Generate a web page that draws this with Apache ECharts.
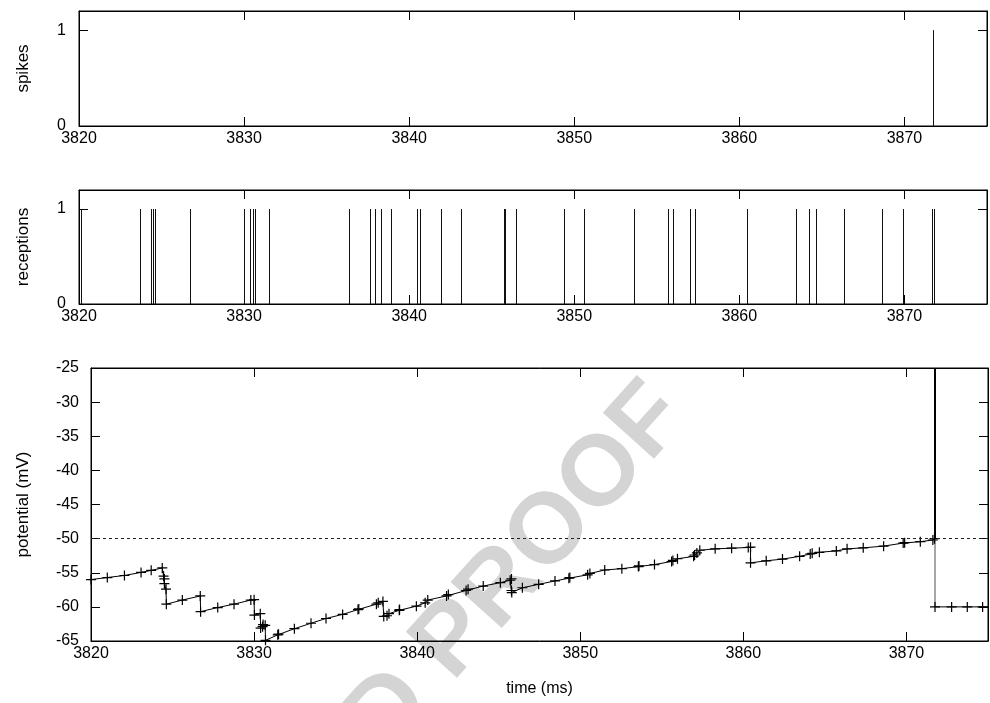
<!DOCTYPE html>
<html>
<head>
<meta charset="utf-8">
<title>Neuron trace</title>
<script src="https://cdn.jsdelivr.net/npm/echarts@6/dist/echarts.min.js"></script>
<style>
  html, body { margin: 0; padding: 0; background: #fff; }
  #chart { width: 990px; height: 703px; }
</style>
</head>
<body>
<div id="chart"></div>
<script>
// time window (ms) and tick steps
const timeMin = 3820
const timeMax = 3875
const timeStep = 10

// output spikes
const spikeTimes = [3871.75]

// incoming spike receptions
const receptionTimes = [
  3820.1, 3823.69, 3824.36, 3824.50, 3824.60, 3826.72, 3829.99, 3830.38, 3830.52, 3830.68,
  3831.49, 3836.37, 3837.61, 3837.95, 3838.27, 3838.92, 3840.49, 3840.65, 3841.91, 3843.12,
  3845.74, 3845.80, 3846.47, 3849.36, 3850.59, 3853.60, 3855.68, 3855.96, 3857.01, 3857.33,
  3860.44, 3863.45, 3864.22, 3864.66, 3866.36, 3868.64, 3869.89, 3871.65, 3871.79
]

// membrane potential before the spike
const traceTime = [
  3820.0, 3821.0, 3822.05, 3823.07, 3823.69, 3824.37, 3824.45, 3824.5, 3824.5, 3824.6,
  3824.62, 3825.6, 3826.7, 3826.72, 3827.77, 3828.77, 3829.8, 3830.0, 3830.02, 3830.38,
  3830.4, 3830.52, 3830.55, 3830.68, 3830.7, 3831.45, 3831.5, 3832.47, 3833.49, 3834.41,
  3835.43, 3836.37, 3836.42, 3837.5, 3837.61, 3837.9, 3837.95, 3838.15, 3838.27, 3838.9,
  3838.92, 3839.95, 3840.49, 3840.65, 3841.8, 3841.91, 3843.0, 3843.12, 3844.05, 3845.1,
  3845.7, 3845.78, 3845.78, 3845.8, 3846.45, 3847.45, 3848.45, 3849.3, 3849.36, 3850.45,
  3850.59, 3851.5, 3852.55, 3853.56, 3853.6, 3854.55, 3855.6, 3855.68, 3855.96, 3856.95,
  3857.01, 3857.15, 3857.33, 3858.27, 3859.28, 3860.3, 3860.44, 3860.44, 3861.4, 3862.4,
  3863.45, 3864.1, 3864.22, 3864.66, 3865.7, 3866.36, 3867.35, 3868.6, 3869.8, 3869.89,
  3870.85, 3871.62, 3871.72
]
const traceMv = [
  -56.0, -55.7, -55.4, -54.95, -54.65, -54.3, -55.5, -55.9, -56.6, -57.4,
  -59.6, -59.0, -58.4, -60.7, -60.1, -59.6, -59.0, -58.95, -61.2, -61.0,
  -63.1, -62.9, -62.6, -62.7, -64.9, -64.1, -64.0, -63.2, -62.4, -61.7,
  -61.1, -60.4, -60.3, -59.6, -59.4, -59.2, -61.4, -61.3, -61.0, -60.5,
  -60.4, -59.9, -59.4, -59.0, -58.4, -58.2, -57.6, -57.4, -56.95, -56.45,
  -56.1, -55.9, -57.6, -57.9, -57.2, -56.7, -56.2, -55.8, -55.7, -55.3,
  -55.1, -54.6, -54.4, -54.1, -54.0, -53.8, -53.35, -53.2, -52.95, -52.6,
  -52.4, -52.1, -51.7, -51.5, -51.4, -51.3, -51.25, -53.55, -53.25, -53.0,
  -52.6, -52.25, -52.15, -52.0, -51.8, -51.5, -51.35, -51.1, -50.65, -50.6,
  -50.45, -50.2, -50.0
]

// after the spike: reset potential
const resetTime = [3871.75, 3872.77, 3873.73, 3874.67, 3875.6]
const resetMv = [-60.0, -60.0, -60.0, -60.0, -60.0]

const thresholdMv = -50
const spikePeakMv = -25
const mvMin = -65
const mvMax = -25
const mvStep = 5

const zip = (xs, ys) => xs.map((x, i) => [x, ys[i]])

const font = 'Liberation Sans, Arial, Helvetica, sans-serif'
// plus sign, drawn filled so it keeps a crisp stroke width
const plusSymbol = 'path://M4.4,0h1.2v4.4h4.4v1.2h-4.4v4.4h-1.2v-4.4h-4.4v-1.2h4.4z'

const tickStyle = { show: true, inside: true, length: 9, lineStyle: { color: '#000', width: 1 } }
const lineStyle = { show: true, onZero: false, lineStyle: { color: '#000', width: 1 } }
const labelStyle = { color: '#000', fontSize: 16, fontFamily: font }
const nameStyle = { color: '#000', fontSize: 17, fontFamily: font }
const plain = v => String(v)

const timeAxis = (gridIndex, position, labels, extra) => Object.assign({
  type: 'value',
  gridIndex,
  position,
  min: timeMin,
  max: timeMax,
  interval: timeStep,
  axisLine: lineStyle,
  axisTick: tickStyle,
  axisLabel: labels ? Object.assign({ margin: 5, showMaxLabel: false, formatter: plain }, labelStyle) : { show: false },
  splitLine: { show: false }
}, extra || {})

const countAxis = (gridIndex, position, labels, name) => ({
  type: 'value',
  gridIndex,
  position,
  min: 0,
  max: 1.2,
  interval: 1,
  name: name || '',
  nameLocation: 'middle',
  nameGap: 47,
  nameTextStyle: nameStyle,
  axisLine: lineStyle,
  axisTick: tickStyle,
  axisLabel: labels ? Object.assign({ margin: 13, showMaxLabel: false, formatter: plain }, labelStyle) : { show: false },
  splitLine: { show: false }
})

const mvAxis = (position, labels) => ({
  type: 'value',
  gridIndex: 2,
  position,
  min: mvMin,
  max: mvMax,
  interval: mvStep,
  name: labels ? 'potential (mV)' : '',
  nameLocation: 'middle',
  nameGap: 59,
  nameTextStyle: nameStyle,
  axisLine: lineStyle,
  axisTick: tickStyle,
  axisLabel: labels ? Object.assign({ margin: 12, formatter: plain }, labelStyle) : { show: false },
  splitLine: { show: false }
})

const impulse = (params, api) => {
  const top = api.coord([api.value(0), api.value(1)])
  const base = api.coord([api.value(0), 0])
  return {
    type: 'line',
    shape: { x1: Math.round(top[0]) + 0.5, y1: top[1], x2: Math.round(base[0]) + 0.5, y2: base[1] },
    style: { stroke: '#111', lineWidth: 1 }
  }
}

const chart = echarts.init(document.getElementById('chart'), null, { renderer: 'canvas' })

const option = {
  animation: false,
  backgroundColor: '#fff',
  grid: [
    { left: 79, right: 3, top: 11, height: 115, show: true, borderColor: '#000', borderWidth: 1 },
    { left: 79, right: 3, top: 190, height: 114, show: true, borderColor: '#000', borderWidth: 1 },
    { left: 91, right: 2, top: 368, height: 273, show: true, borderColor: '#000', borderWidth: 1 }
  ],
  xAxis: [
    timeAxis(0, 'bottom', true),
    timeAxis(0, 'top', false),
    timeAxis(1, 'bottom', true),
    timeAxis(1, 'top', false),
    timeAxis(2, 'bottom', true, {
      name: 'time (ms)',
      nameLocation: 'middle',
      nameGap: 40,
      nameTextStyle: labelStyle
    }),
    timeAxis(2, 'top', false)
  ],
  yAxis: [
    countAxis(0, 'left', true, 'spikes'),
    countAxis(0, 'right', false),
    countAxis(1, 'left', true, 'receptions'),
    countAxis(1, 'right', false),
    mvAxis('left', true),
    mvAxis('right', false)
  ],
  graphic: [
    {
      type: 'text',
      z: -10,
      silent: true,
      x: 670,
      y: 400,
      rotation: Math.PI * 48 / 180,
      style: {
        text: 'UNCORRECTED PROOF',
        align: 'right',
        verticalAlign: 'middle',
        fontSize: 100,
        fontWeight: 'bold',
        fontFamily: font,
        fill: '#d4d4d4'
      }
    }
  ],
  series: [
    {
      name: 'spikes',
      type: 'custom',
      xAxisIndex: 0,
      yAxisIndex: 0,
      renderItem: impulse,
      data: spikeTimes.map(t => [t, 1])
    },
    {
      name: 'receptions',
      type: 'custom',
      xAxisIndex: 2,
      yAxisIndex: 2,
      renderItem: impulse,
      data: receptionTimes.map(t => [t, 1])
    },
    {
      name: 'potential',
      type: 'line',
      xAxisIndex: 4,
      yAxisIndex: 4,
      data: zip(traceTime, traceMv),
      symbol: plusSymbol,
      symbolSize: 10,
      showAllSymbol: true,
      clip: true,
      itemStyle: { color: '#000' },
      lineStyle: { color: '#000', width: 1 },
      markLine: {
        silent: true,
        symbol: 'none',
        label: { show: false },
        lineStyle: { color: '#222', width: 1, type: [3, 3] },
        data: [{ yAxis: thresholdMv }]
      }
    },
    {
      name: 'spike',
      type: 'line',
      xAxisIndex: 4,
      yAxisIndex: 4,
      data: [[spikeTimes[0], thresholdMv], [spikeTimes[0], spikePeakMv]],
      symbol: 'none',
      lineStyle: { color: '#000', width: 2 }
    },
    {
      name: 'reset drop',
      type: 'line',
      xAxisIndex: 4,
      yAxisIndex: 4,
      data: [[spikeTimes[0], thresholdMv], [resetTime[0], resetMv[0]]],
      symbol: 'none',
      lineStyle: { color: '#888', width: 1.5 }
    },
    {
      name: 'reset',
      type: 'line',
      xAxisIndex: 4,
      yAxisIndex: 4,
      data: zip(resetTime, resetMv),
      symbol: plusSymbol,
      symbolSize: 10,
      showAllSymbol: true,
      clip: true,
      itemStyle: { color: '#000' },
      lineStyle: { color: '#000', width: 1 }
    }
  ]
}

chart.setOption(option)
</script>
</body>
</html>
